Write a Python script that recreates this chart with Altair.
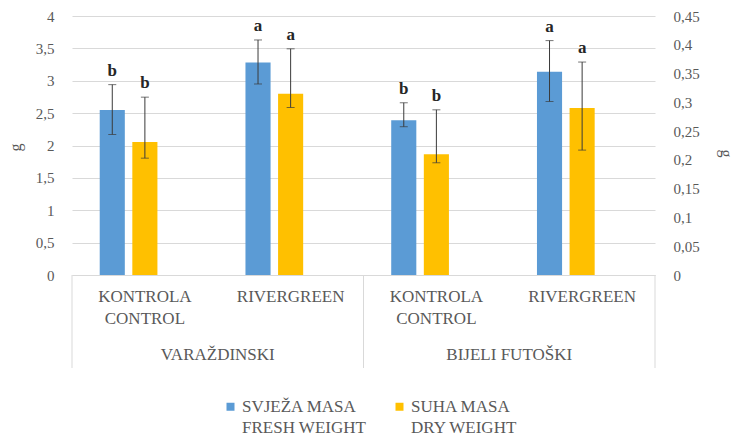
import altair as alt
import pandas as pd

# ---- data ----
categories = ["VARAŽDINSKI|KONTROLA|CONTROL", "VARAŽDINSKI|RIVERGREEN",
              "BIJELI FUTOŠKI|KONTROLA|CONTROL", "BIJELI FUTOŠKI|RIVERGREEN"]
series = ["SVJEŽA MASA|FRESH WEIGHT", "SUHA MASA|DRY WEIGHT"]

fresh = [2.55, 3.28, 2.39, 3.14]
fresh_lo = [2.17, 2.95, 2.29, 2.68]
fresh_hi = [2.94, 3.63, 2.66, 3.62]
fresh_letters = ["b", "a", "b", "a"]

dry = [0.231, 0.315, 0.210, 0.290]
dry_lo = [0.203, 0.291, 0.195, 0.217]
dry_hi = [0.309, 0.393, 0.287, 0.370]
dry_letters = ["b", "a", "b", "a"]

group_names = ["VARAŽDINSKI", "BIJELI FUTOŠKI"]
group_anchor = ["VARAŽDINSKI|RIVERGREEN", "BIJELI FUTOŠKI|RIVERGREEN"]
sep_start = ["VARAŽDINSKI|KONTROLA|CONTROL", "BIJELI FUTOŠKI|KONTROLA|CONTROL"]
sep_end = ["BIJELI FUTOŠKI|RIVERGREEN"]

left_ticks = [0, 0.5, 1, 1.5, 2, 2.5, 3, 3.5, 4]
right_ticks = [0, 0.05, 0.1, 0.15, 0.2, 0.25, 0.3, 0.35, 0.4, 0.45]

BLUE = "#5B9BD5"
YELLOW = "#FFC000"
GRID = "#d9d9d9"
TXT = "#595959"
FONT = "Liberation Serif"

fresh_df = pd.DataFrame({"cat": categories, "series": series[0], "v": fresh,
                         "lo": fresh_lo, "hi": fresh_hi, "letter": fresh_letters})
dry_df = pd.DataFrame({"cat": categories, "series": series[1], "v": dry,
                       "lo": dry_lo, "hi": dry_hi, "letter": dry_letters})
grp_df = pd.DataFrame({"cat": group_anchor, "name": group_names})
sep0_df = pd.DataFrame({"cat": sep_start})
sep1_df = pd.DataFrame({"cat": sep_end})

x_scale = alt.Scale(domain=categories, paddingInner=0, paddingOuter=0)
x_axis = alt.Axis(title=None, labelExpr="slice(split(datum.value, '|'), 1)",
                  ticks=False, domainColor=GRID, labelAngle=0,
                  labelPadding=13, labelLineHeight=22, labelFontSize=17,
                  labelFont=FONT, labelColor=TXT, labelBaseline="top")
x_enc = alt.X("cat:N", sort=categories, scale=x_scale, axis=x_axis)
xo_enc = alt.XOffset("series:N",
                     scale=alt.Scale(domain=series + ["_gap"], paddingInner=0.23,
                                     paddingOuter=0.85))
color_enc = alt.Color("series:N",
                      scale=alt.Scale(domain=series, range=[BLUE, YELLOW]),
                      legend=alt.Legend(title=None, orient="none", legendX=150, legendY=382,
                                        direction="horizontal",
                                        labelExpr="split(datum.value, '|')",
                                        symbolType="square", symbolSize=64,
                                        symbolStrokeWidth=0,
                                        labelFont=FONT, labelFontSize=17, labelColor=TXT,
                                        labelOffset=3, columnPadding=24))


def make_axis(orient, values, fmt, grid, tx, ty, angle):
    return alt.Axis(orient=orient, values=values, grid=grid, gridColor=GRID,
                    domain=False, ticks=False, labelPadding=18, labelOverlap=False,
                    labelExpr="replace(format(datum.value, '" + fmt + "'), '.', ',')",
                    labelFont=FONT, labelFontSize=15, labelColor=TXT,
                    title="g", titleFont=FONT, titleFontSize=16,
                    titleFontWeight="normal", titleColor=TXT, titleBaseline="middle",
                    titleX=tx, titleY=ty, titleAngle=angle)


def side(df, domain, axis):
    base = alt.Chart(df)
    sc = alt.Scale(domain=domain, nice=False)
    bars = base.mark_bar().encode(x=x_enc, xOffset=xo_enc,
                                  y=alt.Y("v:Q", scale=sc, axis=axis), color=color_enc)
    err = base.mark_rule(color="#3a3a3a", strokeWidth=1).encode(
        x=x_enc, xOffset=xo_enc, y=alt.Y("lo:Q", scale=sc, axis=axis), y2="hi:Q")
    cap_hi = base.mark_tick(color="#3a3a3a", thickness=1, size=8).encode(
        x=x_enc, xOffset=xo_enc, y=alt.Y("hi:Q", scale=sc, axis=axis))
    cap_lo = base.mark_tick(color="#3a3a3a", thickness=1, size=8).encode(
        x=x_enc, xOffset=xo_enc, y=alt.Y("lo:Q", scale=sc, axis=axis))
    letters = base.mark_text(font=FONT, fontSize=17, fontWeight="bold", color="#262626",
                             baseline="bottom", dy=-5).encode(
        x=x_enc, xOffset=xo_enc, y=alt.Y("hi:Q", scale=sc, axis=axis), text="letter:N")
    return alt.layer(bars, err, cap_hi, cap_lo, letters)


left = side(fresh_df, [0, 4], make_axis("left", left_ticks, ".1~f", True, -57, 131, 270))
right = side(dry_df, [0, 0.45], make_axis("right", right_ticks, ".2~f", False, 70, 137, 90))

grp_text = alt.Chart(grp_df).mark_text(font=FONT, fontSize=17, color=TXT,
                                       baseline="middle").encode(
    x=alt.X("cat:N", sort=categories, bandPosition=0, scale=x_scale, axis=x_axis),
    y=alt.value(339), text="name:N")
sep0 = alt.Chart(sep0_df).mark_rule(color=GRID, strokeWidth=1).encode(
    x=alt.X("cat:N", sort=categories, bandPosition=0, scale=x_scale, axis=x_axis),
    y=alt.value(259), y2=alt.value(352))
sep1 = alt.Chart(sep1_df).mark_rule(color=GRID, strokeWidth=1).encode(
    x=alt.X("cat:N", sort=categories, bandPosition=1, scale=x_scale, axis=x_axis),
    y=alt.value(259), y2=alt.value(352))

chart = alt.layer(left, right, sep0, sep1, grp_text).resolve_scale(
    y="independent"
).properties(
    width=583, height=259,
    autosize=alt.AutoSizeParams(type="none"),
    padding={"left": 64, "top": 8, "right": 79, "bottom": 163},
).configure(style={"guide-label": {"lineHeight": 21}}).configure_view(stroke=None)

chart.save("out.html", embed_options={"renderer": "svg", "actions": False})
